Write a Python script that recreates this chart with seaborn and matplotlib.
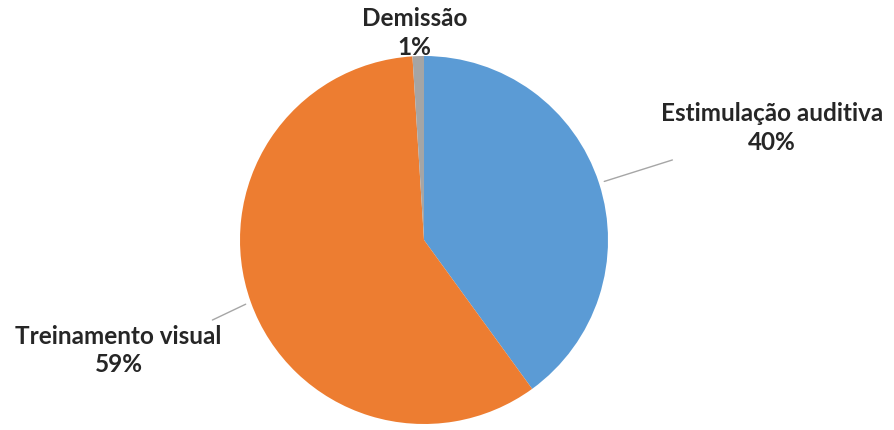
import numpy as np
import seaborn as sns
import matplotlib.pyplot as plt

labels = ['Estimulação auditiva', 'Treinamento visual', 'Demissão']
values = [40, 59, 1]
colors = ['#5B9BD5', '#ED7D31', '#A5A5A5']

sns.set_theme(style="white")
plt.rcParams['font.family'] = ['Lato', 'DejaVu Sans']

fig = plt.figure(figsize=(8.94, 4.30), dpi=100)
# pie centre ~ (424, 240) px, radius ~ 184 px
ax = fig.add_axes([(424 - 184) / 894, (190 - 184) / 430, 368 / 894, 368 / 430])

wedges, _ = ax.pie(values, colors=colors, startangle=90, counterclock=False,
                   radius=1, wedgeprops=dict(linewidth=0))
ax.set_xlim(-1, 1)
ax.set_ylim(-1, 1)
ax.set_aspect('equal')
ax.axis('off')

# label positions (data coords) and whether a leader line is drawn
label_pos = [(1.89, 0.61), (-1.66, -0.60), (-0.05, 1.125)]
line_end = [(1.35, 0.435), (-1.15, -0.435), None]

for w, lab, v, pos, end in zip(wedges, labels, values, label_pos, line_end):
    ax.text(pos[0], pos[1], f'{lab}\n{v}%', ha='center', va='center',
            fontsize=17.5, fontweight='bold', color='#262626',
            linespacing=1.3, clip_on=False)
    if end is not None:
        ang = np.deg2rad((w.theta1 + w.theta2) / 2)
        start = (1.03 * np.cos(ang), 1.03 * np.sin(ang))
        ax.plot([start[0], end[0]], [start[1], end[1]], color='#A6A6A6',
                lw=1, clip_on=False)

fig.savefig('out.png', dpi=100, facecolor='white')
